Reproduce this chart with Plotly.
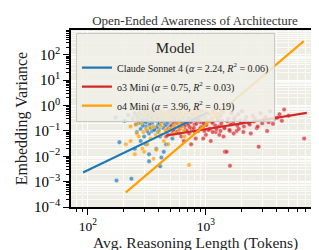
import numpy as np
import plotly.graph_objects as go

# ---- data ----
claude_x = [172,185,175,234,205,220,240,250,255,262,270,275,280,285,290,295,300,305,310,315,320,325,330,335,340,345,350,355,360,365,370,375,380,385,390,395,400,405,410,415,420,425,430,440,445,450,460,470,480,490,500,510,520,530,540,555,570,585,600,620,640,660,680,700,730,760,800,850,900,950,330,380,280,420,460,300,350,260,480,520,250,440,600,400,310,330,410,
            265,278,288,298,308,318,328,338,348,358,368,378,388,398,408,418,428,438,448,458,468,478,488,498,508,518,528,538,548,558,568,578,590,610,630,650,670,690,715,745,780,820,870,920,
            268,292,312,334,356,382,404,426,452,476,502,526,552,578,604,632,662,694,318,342,366,394,436,466,496,536]
claude_y = [0.34,0.036,0.0011,0.0013,0.25,0.42,0.3,0.5,0.18,0.4,0.28,0.55,0.12,0.35,0.45,0.22,0.6,0.3,0.15,0.5,0.38,0.25,0.08,0.45,0.55,0.3,0.2,0.42,0.5,0.12,0.35,0.6,0.25,0.48,0.3,0.18,0.52,0.4,0.06,0.28,0.45,0.35,0.55,0.22,0.4,0.3,0.5,0.15,0.38,0.6,0.28,0.45,0.2,0.35,0.5,0.09,0.3,0.42,0.25,0.55,0.35,0.18,0.45,0.3,0.22,0.4,0.3,0.25,0.35,0.2,0.012,0.02,0.04,0.009,0.03,0.06,0.1,0.09,0.07,0.05,0.02,0.015,0.08,0.12,0.03,0.0063,0.004,
            0.32,0.46,0.26,0.38,0.52,0.3,0.44,0.24,0.36,0.58,0.28,0.42,0.33,0.47,0.21,0.56,0.31,0.44,0.26,0.38,0.53,0.29,0.41,0.35,0.57,0.27,0.43,0.32,0.49,0.23,0.37,0.52,0.34,0.46,0.28,0.4,0.24,0.5,0.33,0.27,0.45,0.36,0.3,0.42,
            0.2,0.16,0.22,0.18,0.26,0.14,0.19,0.24,0.17,0.21,0.15,0.23,0.18,0.2,0.16,0.22,0.19,0.25,0.1,0.13,0.11,0.09,0.13,0.11,0.14,0.12]

o4_x = [210,230,245,260,270,280,290,300,310,320,330,340,350,360,370,380,390,400,410,420,430,440,450,460,470,480,500,520,540,560,580,600,620,650,680,700,720,740,760,800,850,900,950,1000,1100,1200,1300,1400,250,320,270,360,300,420,480,230,550,650,
        265,285,305,325,345,365,385,405,425,445,465,490,515,545,575,610,640,670,710,770,830,880,930,1050,1150,1250,255,295,335,375,415,455,505,530,565,595,625,660]
o4_y = [0.03,0.15,0.35,0.08,0.5,0.2,0.02,0.4,0.12,0.6,0.25,0.05,0.45,0.15,0.3,0.018,0.55,0.1,0.35,0.22,0.6,0.04,0.3,0.5,0.12,0.4,0.25,0.6,0.15,0.45,0.3,0.55,0.2,0.4,0.6,0.25,0.0045,0.5,0.35,0.6,0.4,0.5,0.3,0.6,0.45,0.55,0.35,0.6,0.012,0.03,0.06,0.008,0.015,0.07,0.03,0.04,0.08,0.1,
        0.28,0.42,0.58,0.36,0.5,0.27,0.44,0.6,0.38,0.52,0.33,0.48,0.36,0.55,0.42,0.5,0.32,0.47,0.55,0.45,0.52,0.62,0.42,0.5,0.58,0.48,0.18,0.09,0.13,0.07,0.16,0.1,0.12,0.07,0.2,0.11,0.15,0.06]

o3_x = [460,480,500,520,540,560,580,600,620,640,660,680,700,720,740,760,780,800,820,840,860,880,900,920,950,980,1000,1030,1060,1090,1120,1150,1180,1210,1250,1290,1330,1370,1410,1450,1500,1550,1600,1650,1700,1760,1820,1880,1950,2020,2100,2200,2300,2400,2500,2600,2800,2900,3000,3200,3500,3800,4200,4600,5000,6800,650,750,950,1100,1300,850,1150,1400,1600,2700,560,700,3300,
        510,550,590,630,670,710,750,790,830,870,910,960,1010,1070,1130,1200,1270,1350,1430,1520,1620,1730,1850,1990,2150,2350,2550,2750,3100,3400,3700,4000,4400,530,570,610,690,730,810,890,970,1050,1140,1230,1330,1440,1580,1720,1900,2080]
o3_y = [0.06,0.12,0.3,0.08,0.2,0.4,0.1,0.25,0.06,0.35,0.15,0.5,0.2,0.08,0.3,0.12,0.45,0.18,0.05,0.3,0.1,0.4,0.22,0.6,0.15,0.35,0.07,0.25,0.45,0.12,0.3,0.2,0.5,0.09,0.35,0.15,0.4,0.25,0.06,0.015,0.015,0.3,0.0042,0.5,0.2,0.35,0.1,0.45,0.25,0.6,0.15,0.35,0.2,0.08,0.4,0.3,0.024,0.5,0.2,0.35,0.6,0.3,0.45,0.7,0.4,0.05,0.04,0.03,0.05,0.04,0.07,0.6,0.6,0.55,0.1,0.13,0.55,0.65,0.1,
        0.16,0.24,0.14,0.21,0.11,0.17,0.23,0.13,0.19,0.26,0.14,0.2,0.17,0.12,0.22,0.16,0.27,0.19,0.13,0.24,0.18,0.28,0.16,0.21,0.26,0.18,0.24,0.15,0.28,0.22,0.19,0.33,0.25,0.1,0.09,0.13,0.1,0.14,0.09,0.12,0.1,0.11,0.09,0.12,0.1,0.13,0.11,0.08,0.12,0.09]

# fit lines: log10(y) = intercept + alpha*log10(x), drawn between xmin and xmax
models = ["Claude Sonnet 4", "o3 Mini", "o4 Mini"]
alphas = [2.24, 0.75, 3.96]
r2s = [0.06, 0.03, 0.19]
intercepts = [-7.03, -3.18, -12.62]
fit_xmin = [91, 464, 210]
fit_xmax = [1033, 7160, 6750]
colors = ["#1f77b4", "#d62728", "#ffa000"]

x_tickvals = [100, 1000]
x_ticktext = ["10<sup>2</sup>", "10<sup>3</sup>"]
y_tickvals = [1e-4, 1e-3, 1e-2, 1e-1, 1, 10, 100]
y_ticktext = ["10<sup>\u22124</sup>", "10<sup>\u22123</sup>", "10<sup>\u22122</sup>",
              "10<sup>\u22121</sup>", "10<sup>0</sup>", "10<sup>1</sup>", "10<sup>2</sup>"]

FONT = "Liberation Serif"

fig = go.Figure()
scatters = [(claude_x, claude_y), (o3_x, o3_y), (o4_x, o4_y)]
for (xs, ys), c in zip(scatters, colors):
    fig.add_trace(go.Scatter(x=xs, y=ys, mode="markers", showlegend=False,
                             marker=dict(size=4.5, color=c, opacity=0.7,
                                         line=dict(width=0.4, color="white"))))

for m, a, r2, b, x0, x1, c in zip(models, alphas, r2s, intercepts, fit_xmin, fit_xmax, colors):
    lx = np.array([x0, x1], dtype=float)
    ly = 10 ** (b + a * np.log10(lx))
    fig.add_trace(go.Scatter(x=lx, y=ly, mode="lines", line=dict(color=c, width=2.2),
                             name=f"{m} (<i>α</i> = {a:.2f}, <i>R</i><sup>2</sup> = {r2:.2f})"))

x_minor = [d * 10 ** e for e in range(1, 4) for d in range(2, 10)]
y_minor = [d * 10.0 ** e for e in range(-4, 3) for d in range(2, 10)]

axis_common = dict(type="log", showline=True, linecolor="black", linewidth=1.5, mirror=True,
                   ticks="outside", ticklen=6, tickwidth=1.2, tickcolor="black",
                   showgrid=True, gridcolor="white", gridwidth=1.2, zeroline=False,
                   tickfont=dict(family=FONT, size=15, color="black"))

fig.update_xaxes(**axis_common, range=[np.log10(72), np.log10(9080)],
                 tickvals=x_tickvals, ticktext=x_ticktext,
                 minor=dict(tickvals=x_minor, ticks="outside", ticklen=3.5, tickwidth=1,
                            tickcolor="black", showgrid=True, gridcolor="#fafaf7", gridwidth=1))
fig.update_xaxes(tickfont=dict(family=FONT, size=13.5, color="black"))
fig.update_yaxes(**axis_common, range=[-4, 2.98],
                 tickvals=y_tickvals, ticktext=y_ticktext,
                 minor=dict(tickvals=y_minor, ticks="outside", ticklen=3.5, tickwidth=1,
                            tickcolor="black", showgrid=True, gridcolor="#fafaf7", gridwidth=1),
                 title=dict(text="Embedding Variance",
                            font=dict(family=FONT, size=16, color="#222"), standoff=2))

fig.add_annotation(text="Avg. Reasoning Length (Tokens)", xref="paper", yref="paper",
                   x=0.5, y=-(235 - 199) / 177, xanchor="center", yanchor="middle",
                   showarrow=False, borderpad=0,
                   font=dict(family=FONT, size=15.5, color="#222"))

fig.update_layout(
    width=319, height=250,
    margin=dict(l=63, r=6, t=22, b=51),
    paper_bgcolor="white", plot_bgcolor="#ededE5",
    title=dict(text="Open-Ended Awareness of Architecture", x=0.5, xref="paper",
               y=1 - 12 / 250, yref="container", yanchor="middle",
               font=dict(family=FONT, size=13, color="#333")),
    legend=dict(x=0.02, y=0.985, xanchor="left", yanchor="top",
                bgcolor="rgba(238,238,232,0.85)", bordercolor="#c8c8c8", borderwidth=1,
                font=dict(family=FONT, size=10, color="#222"),
                title=dict(text="Model", side="top center", font=dict(family=FONT, size=15, color="#222")),
                itemwidth=30, tracegroupgap=0),
)

fig.write_html("out.html")
